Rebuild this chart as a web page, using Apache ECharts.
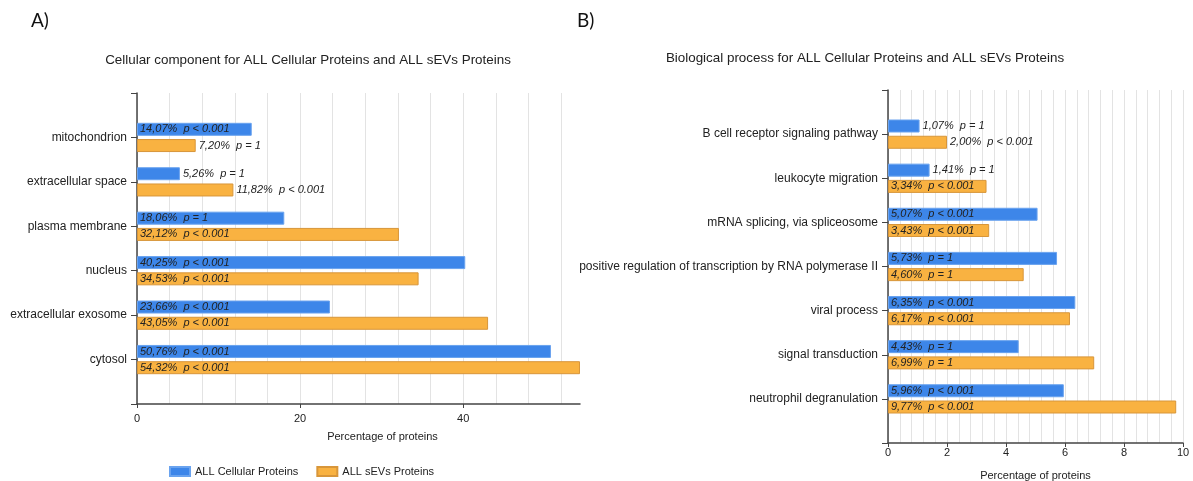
<!DOCTYPE html>
<html>
<head>
<meta charset="utf-8">
<script src="https://cdn.jsdelivr.net/npm/echarts@6/dist/echarts.min.js"></script>
<style>
  html, body { margin: 0; padding: 0; background: #fff; }
  #chart { width: 1193px; height: 481px; }
</style>
</head>
<body>
<div id="chart"></div>
<script>
  // A) cellular component
  const ccCategories = ['mitochondrion', 'extracellular space', 'plasma membrane', 'nucleus', 'extracellular exosome', 'cytosol']
  const ccCellular = [14.07, 5.26, 18.06, 40.25, 23.66, 50.76]
  const ccCellularP = ['p < 0.001', 'p = 1', 'p = 1', 'p < 0.001', 'p < 0.001', 'p < 0.001']
  const ccSevs = [7.20, 11.82, 32.12, 34.53, 43.05, 54.32]
  const ccSevsP = ['p = 1', 'p < 0.001', 'p < 0.001', 'p < 0.001', 'p < 0.001', 'p < 0.001']
  const ccTicks = [0, 20, 40]

  // B) biological process
  const bpCategories = ['B cell receptor signaling pathway', 'leukocyte migration', 'mRNA splicing, via spliceosome',
    'positive regulation of transcription by RNA polymerase II', 'viral process', 'signal transduction', 'neutrophil degranulation']
  const bpCellular = [1.07, 1.41, 5.07, 5.73, 6.35, 4.43, 5.96]
  const bpCellularP = ['p = 1', 'p = 1', 'p < 0.001', 'p = 1', 'p < 0.001', 'p = 1', 'p < 0.001']
  const bpSevs = [2.00, 3.34, 3.43, 4.60, 6.17, 6.99, 9.77]
  const bpSevsP = ['p < 0.001', 'p < 0.001', 'p < 0.001', 'p = 1', 'p < 0.001', 'p = 1', 'p < 0.001']
  const bpTicks = [0, 2, 4, 6, 8, 10]

  const FONT = 'Liberation Sans'
  const BLUE = '#3d86e9'
  const ORANGE = '#f9b241'

  function pct (v) {
    return v.toFixed(2).replace('.', ',') + '%'
  }

  // empty slots at both ends give the half-step padding of the original axis
  function padCats (cats) {
    return [''].concat(cats).concat([''])
  }

  function barData (values, threshold) {
    let items = values.map((v) => {
      return { value: v, label: { position: v >= threshold ? 'insideLeft' : 'right' } }
    })
    return ['-'].concat(items).concat(['-'])
  }

  function barSeries (name, values, pvals, threshold, xIdx, yIdx, color, border) {
    return {
      name: name,
      type: 'bar',
      xAxisIndex: xIdx,
      yAxisIndex: yIdx,
      barWidth: 13,
      barGap: '25%',
      itemStyle: { color: color, borderColor: border, borderWidth: 1 },
      label: {
        show: true,
        distance: 3,
        fontFamily: FONT,
        fontSize: 11,
        fontStyle: 'italic',
        color: '#222',
        formatter: function (p) {
          return pct(p.value) + '  ' + pvals[p.dataIndex - 1]
        }
      },
      data: barData(values, threshold)
    }
  }

  // light vertical grid only
  function gridAxis (gridIdx, max, step, maxLine) {
    return {
      type: 'value',
      gridIndex: gridIdx,
      position: 'bottom',
      min: 0,
      max: max,
      interval: step,
      axisLine: { show: false },
      axisTick: { show: false },
      axisLabel: { show: false },
      splitLine: { show: true, showMaxLine: maxLine, lineStyle: { color: '#e3e3e3', width: 1 } }
    }
  }

  function valueAxis (gridIdx, max, ticks, labelMargin, nameGap, namePad) {
    return {
      type: 'value',
      gridIndex: gridIdx,
      position: 'bottom',
      min: 0,
      max: max,
      axisLine: { show: true, lineStyle: { color: '#444', width: 1.5 } },
      axisTick: { show: true, customValues: ticks, length: 4, lineStyle: { color: '#444' } },
      axisLabel: { customValues: ticks, margin: labelMargin, fontFamily: FONT, fontSize: 11, color: '#222' },
      splitLine: { show: false },
      name: 'Percentage of proteins',
      nameLocation: 'middle',
      nameGap: nameGap,
      nameTextStyle: { fontFamily: FONT, fontSize: 11, color: '#222', padding: namePad }
    }
  }

  function catAxis (gridIdx, cats) {
    return {
      type: 'category',
      gridIndex: gridIdx,
      inverse: true,
      boundaryGap: false,
      data: padCats(cats),
      axisLine: { show: true, lineStyle: { color: '#444', width: 1.5 } },
      axisTick: { show: true, length: 6, lineStyle: { color: '#444' } },
      axisLabel: { margin: 10, fontFamily: FONT, fontSize: 12, color: '#222', interval: 0 },
      splitLine: { show: false }
    }
  }

  let chart = echarts.init(document.getElementById('chart'))
  let options = {
    animation: false,
    title: [
      { text: 'A)', left: 26, top: 6, textStyle: { fontFamily: 'Lato', fontSize: 19, fontWeight: 'normal', color: '#111' } },
      { text: 'B)', left: 572, top: 6, textStyle: { fontFamily: 'Lato', fontSize: 19, fontWeight: 'normal', color: '#111' } },
      { text: 'Cellular component for ALL Cellular Proteins and ALL sEVs Proteins', left: 303, top: 49, textAlign: 'center',
        textStyle: { fontFamily: FONT, fontSize: 13.4, fontWeight: 'normal', color: '#222' } },
      { text: 'Biological process for ALL Cellular Proteins and ALL sEVs Proteins', left: 860, top: 47, textAlign: 'center',
        textStyle: { fontFamily: FONT, fontSize: 13.4, fontWeight: 'normal', color: '#222' } }
    ],
    legend: {
      data: ['ALL Cellular Proteins', 'ALL sEVs Proteins'],
      left: 169,
      top: 466,
      padding: 0,
      itemWidth: 20,
      itemHeight: 9,
      itemGap: 18,
      icon: 'rect',
      textStyle: { fontFamily: FONT, fontSize: 11, color: '#222' }
    },
    grid: [
      { left: 137, top: 93, width: 443, height: 311, outerBoundsMode: 'none' },
      { left: 888, top: 90, width: 295, height: 353, outerBoundsMode: 'none' }
    ],
    xAxis: [
      gridAxis(0, 54.32, 4, false),
      valueAxis(0, 54.32, ccTicks, 9, 27, [0, 0, 0, 48]),
      gridAxis(1, 10, 0.4, true),
      valueAxis(1, 10, bpTicks, 4, 27, [0, 0, 0, 0])
    ],
    yAxis: [
      catAxis(0, ccCategories),
      catAxis(1, bpCategories)
    ],
    series: [
      barSeries('ALL Cellular Proteins', ccCellular, ccCellularP, 12, 1, 0, BLUE, '#6aa3ef'),
      barSeries('ALL sEVs Proteins', ccSevs, ccSevsP, 12, 1, 0, ORANGE, '#d8963a'),
      barSeries('ALL Cellular Proteins', bpCellular, bpCellularP, 3, 3, 1, BLUE, '#6aa3ef'),
      barSeries('ALL sEVs Proteins', bpSevs, bpSevsP, 3, 3, 1, ORANGE, '#d8963a')
    ]
  }
  chart.setOption(options)
</script>
</body>
</html>
